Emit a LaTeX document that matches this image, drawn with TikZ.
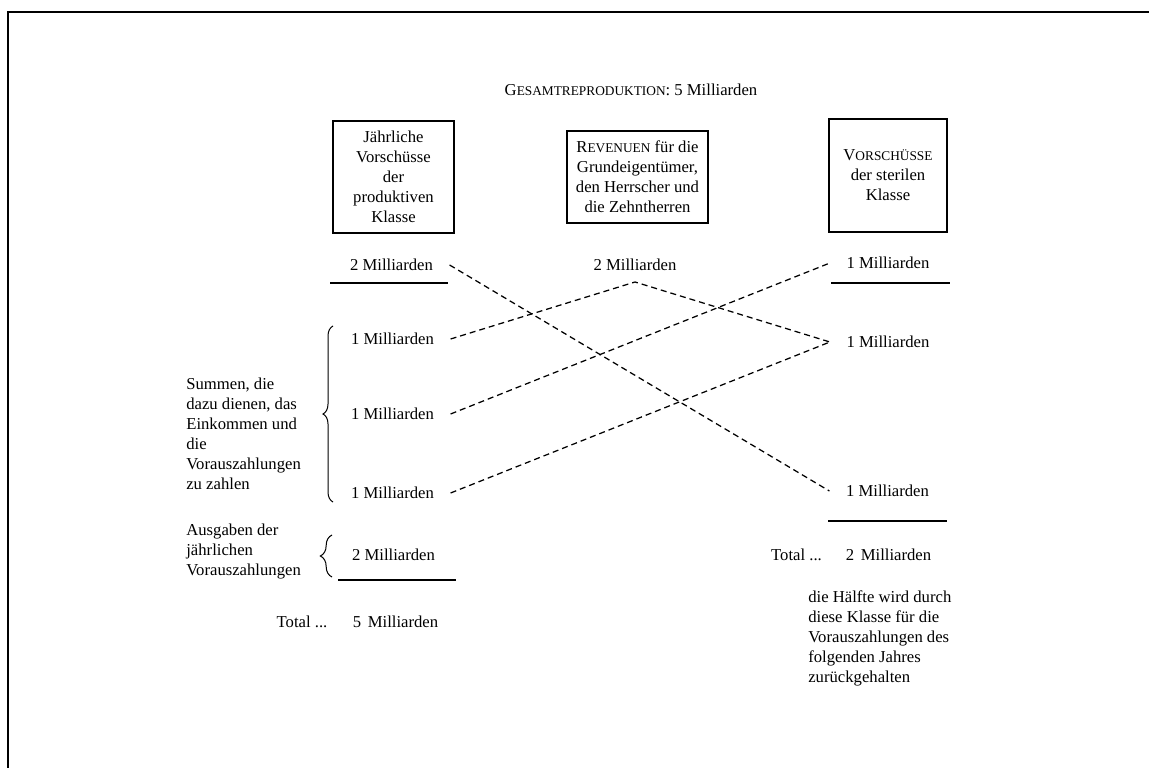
\documentclass[tikz,border=0pt]{standalone}
\usepackage{fontspec}
\setmainfont{Liberation Serif}
\usetikzlibrary{decorations.pathreplacing}
\newcommand{\smc}[1]{{\fontsize{8}{9.6}\selectfont #1}}
\begin{document}
\begin{tikzpicture}[x=0.6pt,y=-0.6pt,
  font=\fontsize{10}{12}\selectfont,
  frameline/.style={line width=1.2pt},
  boxnode/.style={draw, line width=0.7pt, align=center, inner sep=1pt},
  amt/.style={inner sep=0pt, outer xsep=10pt},
  txt/.style={inner sep=0pt, align=left, anchor=west},
  conn/.style={dashed, dash pattern=on 3.6pt off 2.4pt, line width=0.75pt},
  uline/.style={line width=0.7pt},
  bracestyle/.style={decorate, line width=0.6pt}]
\useasboundingbox (0,0) rectangle (1149,768);
% frame
\draw[frameline] (8,768) -- (8,12) -- (1149,12);
% title
\node[inner sep=0pt] (title) at (631,90) {G\smc{ESAMTREPRODUKTION}: 5 Milliarden};
% boxes
\node[boxnode, minimum width=72.6pt, minimum height=67.2pt] (b1) at (393.5,177)
  {Jährliche\\Vorschüsse\\der\\produktiven\\Klasse};
\node[boxnode, minimum width=84.6pt, minimum height=55.2pt] (b2) at (637.5,177)
  {R\smc{EVENUEN} für die\\Grundeigentümer,\\den Herrscher und\\die Zehntherren};
\node[boxnode, minimum width=70.8pt, minimum height=67.8pt] (b3) at (888,175.5)
  {V\smc{ORSCHÜSSE}\\der sterilen\\Klasse};
% amounts left
\node[amt] (a0) at (391.5,265) {2 Milliarden};
\node[amt] (a1) at (392.5,339) {1 Milliarden};
\node[amt] (a2) at (392.5,414) {1 Milliarden};
\node[amt] (a3) at (392.5,493) {1 Milliarden};
\node[amt] (a4) at (393.5,555) {2 Milliarden};
% middle
\node[amt] (m) at (635,265) {2 Milliarden};
\coordinate (apex) at (635,282);
% right
\node[amt] (r1) at (888,263) {1 Milliarden};
\node[amt] (r2) at (888,342) {1 Milliarden};
\node[amt] (r3) at (887.5,491) {1 Milliarden};
% totals
\node[amt] (tl) at (302,622) {Total ...};
\node[amt] (tl5) at (395.5,622) {5\hspace{0.4em}Milliarden};
\node[amt] (tr) at (796.5,555) {Total ...};
\node[amt] (tr2) at (888.5,555) {2\hspace{0.4em}Milliarden};
% underlines
\draw[uline] (330,283) -- (448,283);
\draw[uline] (338,580) -- (456,580);
\draw[uline] (831,283) -- (950,283);
\draw[uline] (828,521) -- (947,521);
% side texts
\node[txt] (sum) at (186,434) {Summen, die\\dazu dienen, das\\Einkommen und\\die\\Vorauszahlungen\\zu zahlen};
\node[txt] (aus) at (186,552) {Ausgaben der\\jährlichen\\Vorauszahlungen};
\node[txt] (half) at (808,638) {die Hälfte wird durch\\diese Klasse für die\\Vorauszahlungen des\\folgenden Jahres\\zurückgehalten};
% braces
\draw[bracestyle, decoration={brace, amplitude=6pt}] (333,502) -- (333,326);
\draw[bracestyle, decoration={brace, amplitude=7pt}] (332,577) -- (332,535);
% connectors
\draw[conn] (a0.east) -- (r3.west);
\draw[conn] (a1.east) -- (apex) -- (r2.west);
\draw[conn] (a2.east) -- (r1.west);
\draw[conn] (a3.east) -- (r2.west);
\end{tikzpicture}
\end{document}
